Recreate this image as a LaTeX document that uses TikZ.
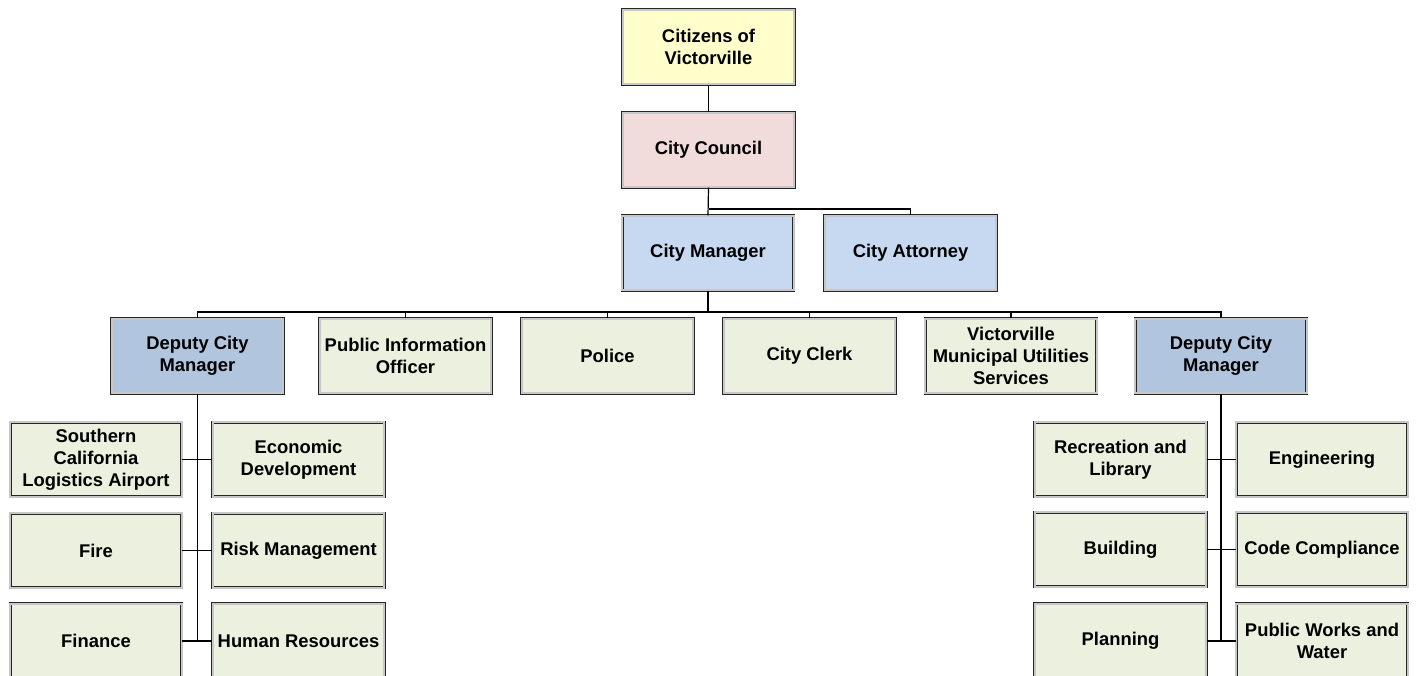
\documentclass[tikz,border=0pt]{standalone}
\usepackage{fontspec}
\setmainfont{Liberation Sans}
\definecolor{cyellow}{HTML}{FFFFCC}
\definecolor{cpink}{HTML}{F2DCDB}
\definecolor{cblue}{HTML}{C6D9F1}
\definecolor{cdeep}{HTML}{B1C5DE}
\definecolor{cgreen}{HTML}{EBF1DE}
\begin{document}
\begin{tikzpicture}[x=1pt,y=-1pt,
  box/.style={draw=black!85, fill=#1, double=black!22, line width=0.85pt,
    double distance=1.7pt, minimum width=171.5pt, minimum height=74.5pt,
    inner sep=0pt, align=center,
    font=\fontsize{18.4}{22}\selectfont\bfseries},
  link/.style={draw=black, line width=1.2pt}]
\useasboundingbox (0,0) rectangle (1419,676);
\clip (0,0) rectangle (1419,676);
% top
\node[box=cyellow] (cit) at (708.5,47) {Citizens of\\Victorville};
\node[box=cpink] (cou) at (708.5,150) {City Council};
\node[box=cblue] (mgr) at (708,253) {City Manager};
\node[box=cblue] (att) at (910.5,253) {City Attorney};
% row 3
\node[box=cdeep] (dl) at (197.5,356) {Deputy City\\Manager};
\node[box=cgreen] (pio) at (405.5,356) {Public Information\\Officer};
\node[box=cgreen] (pol) at (607.5,356) {Police};
\node[box=cgreen] (clk) at (809.5,356) {City Clerk};
\node[box=cgreen] (vmu) at (1011,356) {Victorville\\Municipal Utilities\\Services};
\node[box=cdeep] (dr) at (1221,356) {Deputy City\\Manager};
% left sub
\node[box=cgreen] (sca) at (96,459.5) {Southern\\California\\Logistics Airport};
\node[box=cgreen] (eco) at (298.5,459.5) {Economic\\Development};
\node[box=cgreen] (fire) at (96,550.5) {Fire};
\node[box=cgreen] (risk) at (298.5,550.5) {Risk Management};
\node[box=cgreen] (fin) at (96,641) {Finance};
\node[box=cgreen] (hr) at (298.5,641) {Human Resources};
% right sub
\node[box=cgreen] (rec) at (1120.5,459.5) {Recreation and\\Library};
\node[box=cgreen] (eng) at (1322,459.5) {Engineering};
\node[box=cgreen] (bld) at (1120.5,549.5) {Building};
\node[box=cgreen] (cc) at (1322,549.5) {Code Compliance};
\node[box=cgreen] (pln) at (1120.5,641) {Planning};
\node[box=cgreen] (pw) at (1322,641) {Public Works and\\Water};
% connectors
\coordinate (abus) at (708.5,209);
\coordinate (bus) at (708,312);
\draw[link] (cit.south) -- (cou.north);
\draw[link] (cou.south) -- (mgr.north);
\draw[link] (abus) -| (att.north);
\draw[link] (mgr.south) -- (bus);
\draw[link] (dl.north) |- (bus) -| (dr.north);
\foreach \n in {pio,pol,clk,vmu} \draw[link] (\n.north) -- (\n.north |- bus);
\draw[link] (dl.south) -- (dl.south |- hr.west);
\draw[link] (sca.east) -- (eco.west);
\draw[link] (fire.east) -- (risk.west);
\draw[link] (fin.east) -- (hr.west);
\draw[link] (dr.south) -- (dr.south |- pw.west);
\draw[link] (rec.east) -- (eng.west);
\draw[link] (bld.east) -- (cc.west);
\draw[link] (pln.east) -- (pln.east -| dr.south);
\draw[link] (pw.west) -- (pw.west -| dr.south);
\end{tikzpicture}
\end{document}
